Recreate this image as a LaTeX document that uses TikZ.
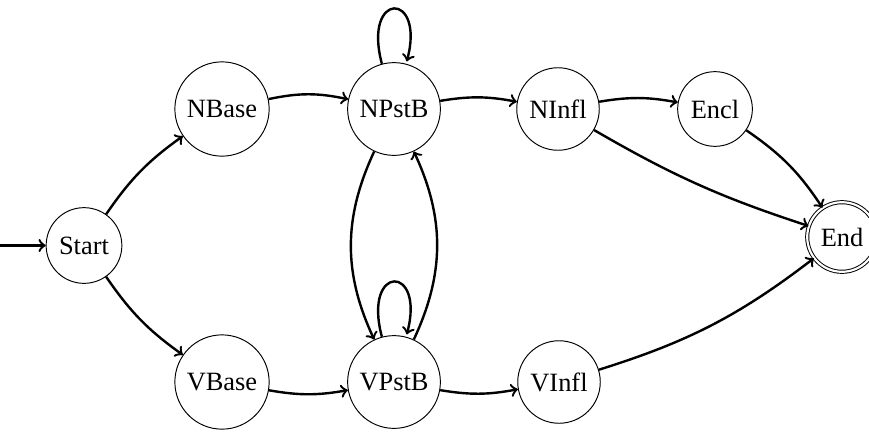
\documentclass[tikz,border=0pt]{standalone}
\usepackage{fontspec}
\setmainfont{Liberation Serif}
\usetikzlibrary{arrows}
\begin{document}
\begin{tikzpicture}[x=0.41667pt,y=-0.41667pt,
  state/.style={circle,draw,line width=0.4pt,inner sep=3.6pt,font=\fontsize{11}{13}\selectfont},
  accept/.style={state,double,double distance=0.9pt},
  trans/.style={->,line width=1pt}]
\useasboundingbox (0,0) rectangle (869,432);
\node[state] (start) at (84,245.5) {Start};
\node[state] (nbase) at (222,109) {NBase};
\node[state] (npstb) at (394,109) {NPstB};
\node[state] (ninfl) at (558,109) {NInfl};
\node[state] (encl) at (715,109) {Encl};
\node[state] (vbase) at (222,382) {VBase};
\node[state] (vpstb) at (394,382) {VPstB};
\node[state] (vinfl) at (559,382) {VInfl};
\node[accept] (end) at (842,237) {End};
\coordinate (init) at (0,245.5);
\draw[trans] (init) -- (start);
\draw[trans] (start) to[bend left=10] (nbase);
\draw[trans] (start) to[bend right=10] (vbase);
\draw[trans] (nbase) to[bend left=12] (npstb);
\draw[trans] (npstb) to[bend left=10] (ninfl);
\draw[trans] (ninfl) to[bend left=10] (encl);
\draw[trans] (vbase) to[bend right=10] (vpstb);
\draw[trans] (vpstb) to[bend right=10] (vinfl);
\draw[trans] (npstb) to[bend right=25] (vpstb);
\draw[trans] (vpstb) to[bend right=25] (npstb);
\draw[trans] (npstb) edge[loop above] (npstb);
\draw[trans] (vpstb) edge[loop above] (vpstb);
\draw[trans] (ninfl) to[bend right=6] (end);
\draw[trans] (encl) to[bend left=11] (end);
\draw[trans] (vinfl) to[bend right=10] (end);
\end{tikzpicture}
\end{document}
